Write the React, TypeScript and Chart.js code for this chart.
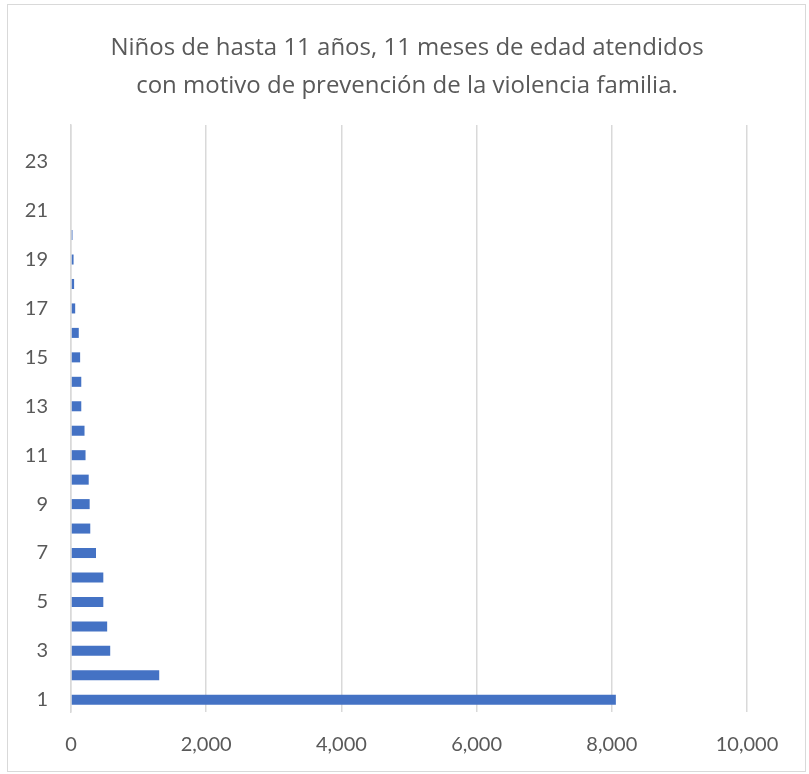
import React, { useEffect, useRef } from "react";
import { Chart, registerables } from "chart.js";

Chart.register(...registerables);

const categories: string[] = [
  "1", "2", "3", "4", "5", "6", "7", "8", "9", "10", "11", "12",
  "13", "14", "15", "16", "17", "18", "19", "20", "21", "22", "23", "24",
];
const values: number[] = [
  8060, 1305, 580, 535, 478, 478, 370, 285, 276, 262, 215, 200,
  152, 152, 135, 115, 62, 46, 38, 22, 0, 0, 0, 0,
];
const titleLines: string[] = [
  "Niños de hasta 11 años, 11 meses de edad atendidos",
  "con motivo de prevención de la violencia familia.",
];
const xTicks = { min: 0, max: 10000, step: 2000 };

const FONT = "Lato, 'Open Sans', sans-serif";
const TITLE_FONT = "'Open Sans', Lato, sans-serif";
const TEXT = "#595959";
const GRID = "#d9d9d9";

const titlePlugin = {
  id: "customTitle",
  afterDraw(chart: any) {
    const ctx = chart.ctx;
    ctx.save();
    ctx.fillStyle = TEXT;
    ctx.font = `24px ${TITLE_FONT}`;
    ctx.textAlign = "center";
    ctx.textBaseline = "middle";
    ctx.fillText(titleLines[0], 407, 48);
    ctx.fillText(titleLines[1], 407, 86);
    ctx.restore();
  },
};

export default function App() {
  const ref = useRef<HTMLCanvasElement | null>(null);
  useEffect(() => {
    if (!ref.current) return;
    const chart = new Chart(ref.current, {
      type: "bar",
      data: {
        labels: categories,
        datasets: [
          {
            data: values,
            backgroundColor: "#4472c4",
            borderWidth: 0,
            barPercentage: 0.41,
            categoryPercentage: 1,
          },
        ],
      },
      options: {
        indexAxis: "y",
        animation: false,
        responsive: false,
        maintainAspectRatio: false,
        layout: { padding: { top: 125, right: 62, bottom: 0, left: 0 } },
        plugins: {
          legend: { display: false },
          title: { display: false },
          tooltip: { enabled: false },
        },
        scales: {
          x: {
            type: "linear",
            min: xTicks.min,
            max: xTicks.max,
            ticks: {
              stepSize: xTicks.step,
              color: TEXT,
              font: { family: FONT, size: 20 },
              padding: 21,
              callback: (v: any) => Number(v).toLocaleString("en-US"),
            },
            grid: { color: GRID, lineWidth: 1.5, drawTicks: false },
            border: { display: false },
            afterFit: (s: any) => {
              s.height = 62;
            },
          },
          y: {
            type: "category",
            reverse: true,
            ticks: {
              autoSkip: false,
              color: TEXT,
              font: { family: FONT, size: 20 },
              padding: 23,
              callback: function (_v: any, i: number) {
                return i % 2 === 0 ? categories[i] : "";
              },
            },
            grid: { display: false, drawTicks: false },
            border: { display: true, color: GRID, width: 1.5 },
            afterFit: (s: any) => {
              s.width = 71;
            },
          },
        },
      },
      plugins: [titlePlugin],
    });
    return () => chart.destroy();
  }, []);

  return (
    <div style={{ position: "fixed", left: 0, top: 0, width: 809, height: 774, background: "#fff" }}>
      <div
        style={{
          position: "absolute",
          left: 7,
          top: 4,
          width: 799,
          height: 768,
          border: "1px solid #d9d9d9",
          boxSizing: "border-box",
        }}
      />
      <canvas ref={ref} width={809} height={774} style={{ position: "absolute", left: 0, top: 0 }} />
    </div>
  );
}
